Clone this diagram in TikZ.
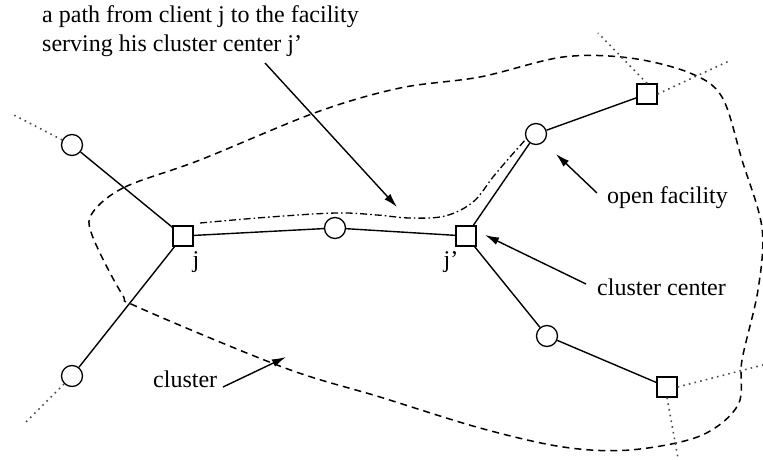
\documentclass[tikz,border=0pt]{standalone}
\usepackage{fontspec}
\setmainfont{Liberation Serif}
\usetikzlibrary{arrows.meta}
\begin{document}
\begin{tikzpicture}[x=1pt,y=-1pt,
  fac/.style={draw,line width=1.3pt,fill=white,minimum size=20pt,inner sep=0pt},
  cli/.style={draw,circle,line width=1.3pt,fill=white,minimum size=21pt,inner sep=0pt},
  edge/.style={line width=1.4pt},
  dotline/.style={line width=1.6pt,dash pattern=on 1.6pt off 4.2pt,black!70},
  boundary/.style={line width=1.5pt,dash pattern=on 7pt off 5pt},
  pathline/.style={line width=1.3pt,dash pattern=on 7pt off 3pt on 1.6pt off 3pt},
  ptr/.style={line width=1.4pt,-{Latex[length=14pt,width=8pt]}},
  lbl/.style={font=\fontsize{24}{29}\selectfont,inner sep=0pt}
]
\useasboundingbox (0,0) rectangle (763,460);
% cluster boundary
\draw[boundary] plot[smooth cycle,tension=0.55] coordinates {
 (93,212) (125,187) (200,160) (317,112) (400,88) (480,77) (563,57) (630,58)
 (690,73) (722,97) (742,160) (762,228) (758,290) (742,360) (738,405)
 (700,436) (630,450) (563,447) (480,428) (380,397) (285,368) (140,308)
 (122,294) (92,235)};
% dash-dot path
\draw[pathline] plot[smooth,tension=0.6] coordinates {
 (200,223) (270,217) (337,213) (377,215) (410,218) (445,216) (473,202)
 (493,177) (510,157) (527,138)};
% nodes
\node[cli] (c1) at (72,145) {};
\node[cli] (c2) at (72,376) {};
\node[fac] (j) at (183,236) {};
\node[cli] (c3) at (335,228) {};
\node[fac] (jp) at (466,236) {};
\node[cli] (c4) at (536,134) {};
\node[fac] (s1) at (647,94) {};
\node[cli] (c5) at (547,336) {};
\node[fac] (s2) at (667,387) {};
% solid edges
\draw[edge] (c1) -- (j);
\draw[edge] (c2) -- (j);
\draw[edge] (j) -- (c3);
\draw[edge] (c3) -- (jp);
\draw[edge] (jp) -- (c4);
\draw[edge] (c4) -- (s1);
\draw[edge] (jp) -- (c5);
\draw[edge] (c5) -- (s2);
% dotted continuations
\coordinate (d1) at (12,114);
\coordinate (d2) at (25,423);
\coordinate (d3) at (598,33);
\coordinate (d4) at (729,61);
\coordinate (d5) at (763,365);
\coordinate (d6) at (678,458);
\draw[dotline] (c1) -- (d1);
\draw[dotline] (c2) -- (d2);
\draw[dotline] (s1.north) -- (d3);
\draw[dotline] (s1.east) -- (d4);
\draw[dotline] (s2.east) -- (d5);
\draw[dotline] (s2.south) -- (d6);
% labels
\node[lbl,anchor=base west] (t1) at (42,23) {a path from client j to the facility};
\node[lbl,anchor=base west] (t2) at (42,52) {serving his cluster center j'};
\node[lbl,anchor=base west] (of) at (607,203) {open facility};
\node[lbl,anchor=base west] (cc) at (597,295) {cluster center};
\node[lbl,anchor=base west] (cl) at (153,387) {cluster};
\node[lbl] (jl) at (196,262) {j};
\node[lbl] (jpl) at (451,262) {j'};
% arrows
\coordinate (a1s) at (265,63);
\coordinate (a1e) at (397,207);
\coordinate (a2s) at (597,193);
\coordinate (a2e) at (556,154);
\coordinate (a3s) at (586,284);
\coordinate (a3e) at (485,235);
\coordinate (a4s) at (223,387);
\coordinate (a4e) at (286,357);
\draw[ptr] (a1s) -- (a1e);
\draw[ptr] (a2s) -- (a2e);
\draw[ptr] (a3s) -- (a3e);
\draw[ptr] (a4s) -- (a4e);
\end{tikzpicture}
\end{document}
